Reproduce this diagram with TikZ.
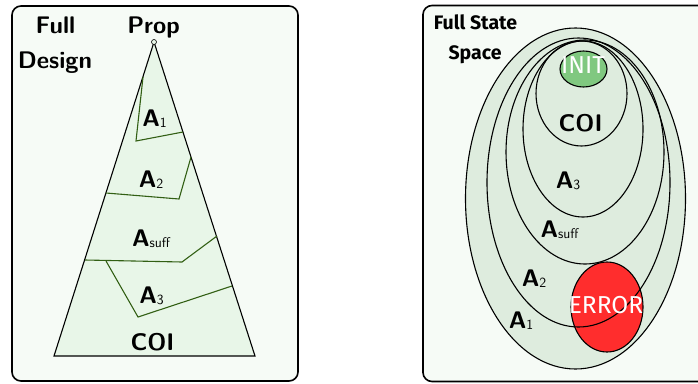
\documentclass[tikz,border=0pt]{standalone}
\usepackage{fontspec}
\newfontfamily\fira{Fira Sans}
\definecolor{boxfill}{RGB}{246,251,246}
\definecolor{trifill}{RGB}{232,246,232}
\definecolor{ellfill}{RGB}{222,236,222}
\definecolor{initfill}{RGB}{128,200,128}
\definecolor{errfill}{RGB}{255,45,45}
\definecolor{gline}{RGB}{50,95,20}
\newcommand\subsc[1]{{\mdseries\fontsize{14}{14}\selectfont\raisebox{-1pt}{#1}}}
\begin{document}
\begin{tikzpicture}[x=1pt,y=-1pt,
  panel/.style={draw=black, line width=1.6pt, fill=boxfill, rounded corners=9pt},
  tri/.style={draw=black, line width=1.1pt, fill=trifill},
  grn/.style={draw=gline, line width=1.1pt},
  ell/.style={draw=black, line width=1.1pt},
  lbl/.style={anchor=base, inner sep=0pt, font=\sffamily\bfseries\fontsize{24}{24}\selectfont},
  rlbl/.style={anchor=base, inner sep=0pt, font=\fira\bfseries\fontsize{19.5}{19.5}\selectfont},
  wlbl/.style={anchor=base, inner sep=0pt, text=white, font=\fira\fontsize{24.5}{24.5}\selectfont}]
\useasboundingbox (0,0) rectangle (698,383);
\clip (0,0) rectangle (698,383);
% panels
\draw[panel] (12,6) rectangle (298,381);
\draw[panel] (423,5.5) rectangle (740,381.5);
% left: triangle
\coordinate (apex) at (154,42);
\coordinate (bl) at (54,356);
\coordinate (br) at (255,356);
\draw[tri] (apex) -- (bl) -- (br) -- cycle;
\coordinate (a1a) at (143,77); \coordinate (a1b) at (136,141); \coordinate (a1c) at (183,132);
\coordinate (a2a) at (106,193); \coordinate (a2b) at (179,199); \coordinate (a2c) at (191,157);
\coordinate (asa) at (85,260); \coordinate (asb) at (182,262); \coordinate (asc) at (217,236);
\coordinate (a3a) at (106,261); \coordinate (a3b) at (138,317); \coordinate (a3c) at (232,286);
\draw[grn] (a1a) -- (a1b) -- (a1c);
\draw[grn] (a2a) -- (a2b) -- (a2c);
\draw[grn] (asa) -- (asb) -- (asc);
\draw[grn] (a3a) -- (a3b) -- (a3c);
\node[circle, draw=black, line width=0.6pt, fill=trifill, inner sep=0pt, minimum size=5pt] (propdot) at (apex) {};
% left labels
\node[lbl] (full) at (55.5,33.3) {Full};
\node[lbl] (design) at (55,68) {Design};
\node[lbl] (prop) at (153.5,33.3) {Prop};
\node[lbl] (la1) at (154.5,126) {A\subsc{1}};
\node[lbl] (la2) at (151,187.3) {A\subsc{2}};
\node[lbl] (lasuff) at (151,246) {A\subsc{suff}};
\node[lbl] (la3) at (151.5,303.3) {A\subsc{3}};
\node[lbl] (lcoi) at (152.5,350.7) {COI};
% right: ellipses
\fill[ellfill] (575.5,198.5) ellipse [x radius=110pt, y radius=170.5pt];
\fill[ellfill] (578.5,182.5) ellipse [x radius=91.5pt, y radius=144.5pt];
\fill[errfill] (607,307) ellipse [x radius=36pt, y radius=45pt];
\draw[ell] (607,307) ellipse [x radius=36pt, y radius=45pt];
\draw[ell] (575.5,198.5) ellipse [x radius=110pt, y radius=170.5pt];
\draw[ell] (578.5,182.5) ellipse [x radius=91.5pt, y radius=144.5pt];
\draw[ell] (585,152) ellipse [x radius=79pt, y radius=112pt];
\draw[ell] (583,129) ellipse [x radius=60pt, y radius=88pt];
\draw[ell] (581.5,93.5) ellipse [x radius=45.5pt, y radius=52.5pt];
\draw[ell, fill=initfill] (583.5,69) ellipse [x radius=23.5pt, y radius=18pt];
% right labels
\node[rlbl] (fullstate) at (475.5,29.3) {Full State};
\node[rlbl] (space) at (475,59) {Space};
\node[wlbl] (init) at (583,73.3) {INIT};
\node[lbl] (rcoi) at (580.5,131.7) {COI};
\node[lbl] (ra3) at (568,188.3) {A\subsc{3}};
\node[lbl] (rasuff) at (559.5,237.7) {A\subsc{suff}};
\node[lbl] (ra2) at (534,286) {A\subsc{2}};
\node[lbl] (ra1) at (521,328.3) {A\subsc{1}};
\node[wlbl] (error) at (606,313.3) {ERROR};
\end{tikzpicture}
\end{document}
